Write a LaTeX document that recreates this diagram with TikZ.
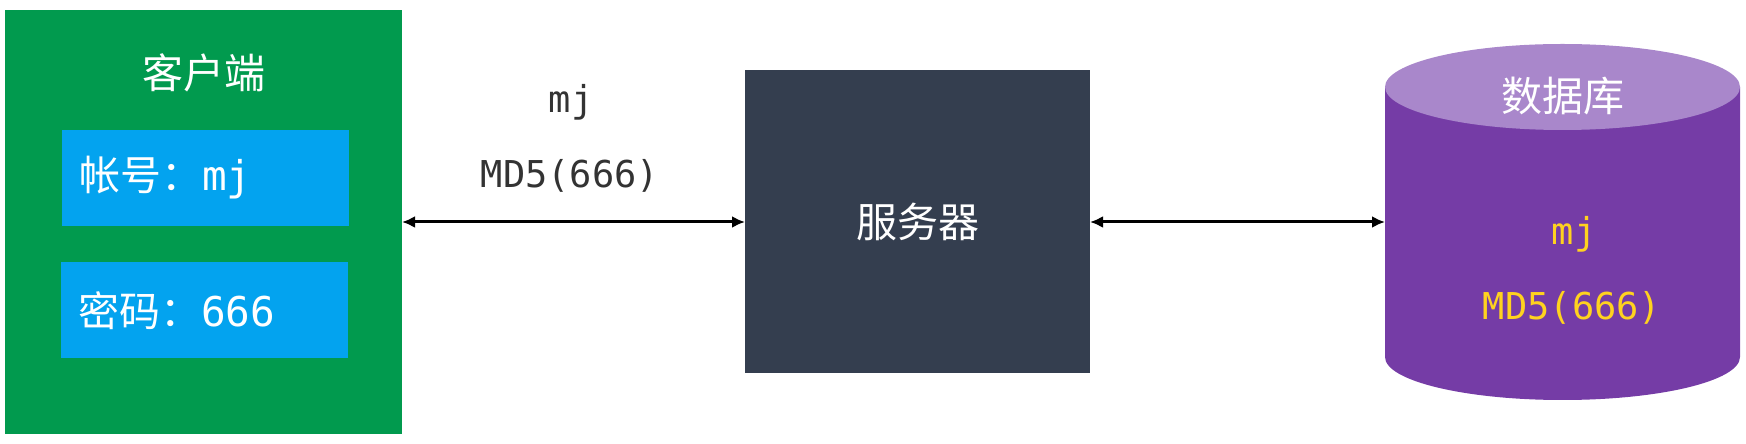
\documentclass[tikz,border=0pt]{standalone}
\usepackage{fontspec}
\newfontfamily\cjk{Noto Sans CJK SC}
\newfontfamily\mono{DejaVu Sans Mono}
\usetikzlibrary{arrows.meta,positioning}
\definecolor{clientgreen}{HTML}{019A4E}
\definecolor{fieldblue}{HTML}{03A3EF}
\definecolor{serverslate}{HTML}{343E4F}
\definecolor{dbpurple}{HTML}{753CA6}
\definecolor{dbtop}{HTML}{A987CB}
\definecolor{hashyellow}{HTML}{FFD21F}
\definecolor{labelgray}{HTML}{333333}
\tikzset{>={Latex[length=13pt,width=12pt]}}
\tikzset{block/.style={inner sep=0pt,outer sep=0pt}}
\tikzset{field/.style={block,fill=fieldblue,minimum width=287pt,minimum height=96pt}}
\tikzset{cjktext/.style={text=white,font=\cjk\fontsize{41}{48}\selectfont}}
\tikzset{hashtext/.style={anchor=base,font=\mono\fontsize{37}{44}\selectfont}}
\tikzset{link/.style={<->,line width=3pt}}

\begin{document}
\begin{tikzpicture}[x=1pt,y=1pt]
  \useasboundingbox (0,0) rectangle (1746,444);
  % Client
  \node[block,fill=clientgreen,minimum width=397pt,minimum height=424pt] (client) at (203.5,222) {};
  \node[cjktext] (clienttitle) at (204,371) {客户端};
  \node[field] (account) at (205,266) {};
  \node[cjktext,anchor=west] (accounttext) at ([xshift=14pt]account.west) {帐号：{\mono mj}};
  \node[field] (password) at (204,133.5) {};
  \node[cjktext,anchor=west] (passwordtext) at ([xshift=14pt]password.west) {密码：{\mono 666}};
  % Server
  \node[block,fill=serverslate,minimum width=345pt,minimum height=303pt,cjktext] (server) at (917.5,222) {服务器};
  % Database
  \node[block,minimum width=355pt,minimum height=270pt] (db) at (1562.5,222) {};
  \fill[dbpurple] (db.north west) -- (db.south west)
    arc[start angle=180,end angle=360,x radius=177.5pt,y radius=43pt]
    -- (db.north east) -- cycle;
  \fill[dbtop] (db.north) ellipse[x radius=177.5pt,y radius=43pt];
  \node[cjktext] (dbtitle) at (1563,348) {数据库};
  \node[hashtext,text=hashyellow] (dbuser) at (1574,199) {mj};
  \node[hashtext,text=hashyellow] (dbhash) at (1572,124) {MD5(666)};
  % Lines
  \draw[link] (client.east) -- (server.west);
  \draw[link] (server.east) -- (db.west);
  \node[hashtext,text=labelgray] (sentuser) at (571,331) {mj};
  \node[hashtext,text=labelgray] (senthash) at (570,256) {MD5(666)};
\end{tikzpicture}
\end{document}
